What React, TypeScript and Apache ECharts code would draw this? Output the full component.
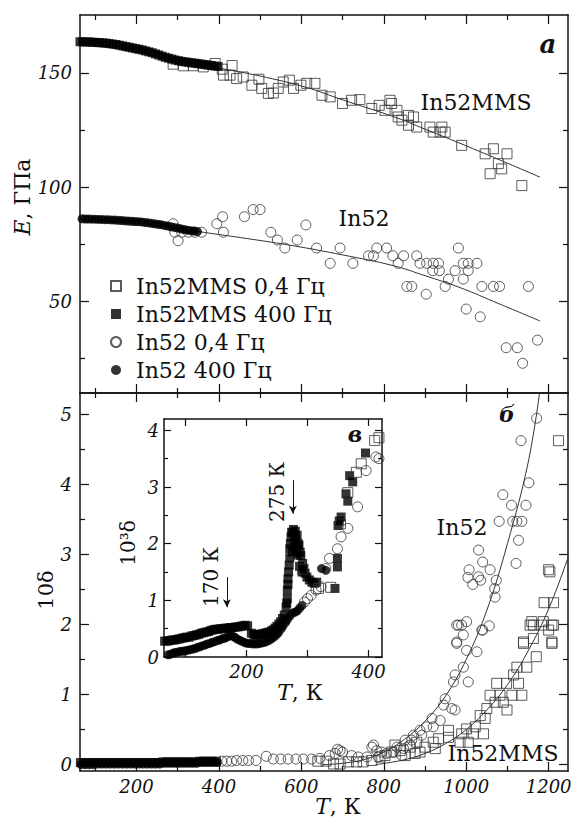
import React, { useEffect, useRef } from 'react';
import * as echarts from 'echarts';

// ---------- Panel "а": E (GPa) vs T (K) ----------
const topMms04: number[][] = [
  [289,153.8],[314,153.1],[338,153.1],[362,152.6],[391,154.1],[408,151.6],[432,153.2],[411,149],[427,149],
  [443,147.5],[459,148.2],[480,144.6],[497,147.2],[504,143.2],[520,141],[532,141.2],[544,143.2],[556,146],
  [571,146.8],[581,143.2],[599,144.6],[613,145.4],[633,145.4],[650,140.2],[670,139.5],[700,136.6],[722,138],
  [742,138.3],[771,134.4],[789,135.8],[803,133.6],[815,138],[819,136.6],[832,133.6],[835,130.7],[860,131.4],
  [844,129.3],[872,130.7],[860,127.1],[880,126.3],[912,126.3],[941,126.3],[920,124.1],[937,124.1],[949,124.1],
  [989,118.3],[1046,114.6],[1066,116.8],[1099,114.6],[1078,110.3],[1086,108],[1058,105.9],[1135,100.7]
];
const topMms400: number[][] = [
  [63,163.6],[70,163.6],[78,163.5],[86,163.5],[94,163.4],[102,163.3],[110,163.2],[118,163.1],[126,163],
  [134,162.8],[142,162.6],[150,162.4],[158,162.1],[166,161.8],[174,161.5],[182,161.2],[190,160.9],[198,160.6],
  [206,160.3],[214,160],[222,159.6],[230,159.2],[238,158.8],[246,158.3],[254,157.8],[262,157.3],[270,156.8],
  [278,156.4],[286,156],[294,155.6],[302,155.3],[310,155],[318,154.8],[326,154.6],[334,154.4],[342,154.2],
  [350,154],[358,153.8],[366,153.6],[374,153.4],[382,153.2],[390,153],[398,152.8]
];
const topIn52_04: number[][] = [
  [289,84],[293,80.3],[301,76.6],[310,80.3],[326,80.3],[342,80.3],[358,80.3],[395,84],[409,87.1],[411,80.3],
  [462,87.1],[483,90.2],[500,90.2],[526,80.3],[542,76.9],[560,73.4],[590,76.9],[611,83.5],[637,73.4],[670,66.7],
  [694,73.4],[725,66.7],[763,70],[775,70],[783,73.4],[807,73.4],[822,70],[835,66.7],[848,70],[856,56.6],
  [868,56.6],[880,70],[888,66.7],[903,53.2],[904,66.7],[920,66.7],[933,66.7],[919,63.5],[935,63.5],[949,56.6],
  [957,59.8],[973,63.5],[981,73.4],[993,66.7],[1005,66.7],[1026,66.7],[1005,63.5],[993,59.8],[1000,46.7],
  [1034,43.3],[1038,56.6],[1066,56.6],[1081,56.6],[1097,29.8],[1124,29.8],[1137,23],[1173,33.1],[1151,56.6]
];
const topIn52_400: number[][] = [
  [68,86.2],[76,86.1],[84,86.1],[92,86],[100,86],[108,85.9],[116,85.9],[124,85.8],[132,85.8],[140,85.7],
  [148,85.6],[156,85.5],[164,85.4],[172,85.3],[180,85.2],[188,85.1],[196,85],[204,84.9],[212,84.8],[220,84.6],
  [228,84.4],[236,84.2],[244,84],[252,83.8],[260,83.6],[268,83.3],[276,83],[284,82.7],[292,82.4],[300,82.1],
  [308,81.8],[316,81.5],[324,81.2],[332,81],[340,80.8],[348,80.6]
];
const topFitMms: number[][] = [
  [300,155.6],[403,152],[500,148.6],[613,143.6],[700,138.2],[823,130.9],[900,125.4],[985,119.2],[1100,110.5],[1179,104.4]
];
const topFitIn52: number[][] = [
  [300,82],[362,80.3],[470,77.5],[580,74.4],[700,70.4],[823,65.7],[900,61.3],[985,56.1],[1080,49],[1179,41.5]
];

// ---------- Panel "б": 10δ vs T (K) ----------
const botIn52_04: number[][] = [
  [407,0.05],[419,0.05],[431,0.05],[443,0.06],[458,0.06],[472,0.06],[490,0.06],[515,0.12],[532,0.08],[550,0.08],
  [568,0.08],[587,0.08],[605,0.08],[625,0.08],[645,0.09],[668,0.13],[682,0.16],[688,0.22],[694,0.2],[700,0.18],
  [722,0.13],[738,0.11],[759,0.11],[771,0.25],[775,0.28],[783,0.2],[795,0.18],[787,0.11],[807,0.16],[823,0.18],
  [844,0.13],[832,0.25],[848,0.23],[852,0.35],[864,0.28],[868,0.35],[872,0.42],[888,0.49],[892,0.42],[904,0.54],
  [917,0.66],[920,0.54],[937,0.63],[945,0.85],[949,0.94],[965,0.8],[973,0.78],[969,1.18],[973,1.28],[1005,1.18],
  [993,1.39],[1001,1.63],[1026,1.61],[977,1.73],[993,1.85],[977,1.99],[989,1.99],[1001,2.04],[1038,1.92],
  [1056,1.98],[981,1.99],[977,1.75],[1040,1.92],[1007,2.78],[1004,2.67],[1016,2.57],[1030,2.68],[1030,3.06],
  [1035,2.63],[1040,2.89],[1058,2.78],[1073,2.63],[1069,2.51],[1070,2.39],[1080,3.47],[1089,3.85],[1110,3.7],
  [1113,3.47],[1123,3.47],[1135,3.47],[1127,3.2],[1121,2.87],[1145,3.7],[1152,4.02],[1133,4.62],[1171,4.94]
];
const botMms04: number[][] = [
  [640,0.05],[660,0.05],[678,0.01],[694,0.01],[714,0.04],[734,0.04],[750,0.04],[771,0.06],[791,0.11],[803,0.13],
  [819,0.18],[827,0.28],[840,0.2],[852,0.13],[864,0.25],[876,0.16],[880,0.32],[888,0.18],[900,0.25],[920,0.32],
  [925,0.23],[933,0.37],[957,0.49],[957,0.39],[985,0.32],[1005,0.32],[989,0.44],[1017,0.44],[1042,0.44],[1001,0.51],
  [1022,0.54],[1046,0.66],[1034,0.7],[1050,0.8],[1070,0.89],[1090,0.89],[1099,0.78],[1058,0.99],[1082,0.99],
  [1111,0.99],[1135,0.99],[1074,1.16],[1098,1.16],[1127,1.16],[1115,1.28],[1123,1.39],[1147,1.39],[1170,1.54],
  [1139,1.73],[1208,1.73],[1163,1.8],[1159,2.04],[1187,2.04],[1163,1.99],[1208,1.99],[1200,1.92],[1155,1.99],
  [1183,1.99],[1212,1.99],[1139,1.75],[1208,1.75],[1189,2.31],[1212,2.31],[1200,2.78],[1203,2.75],[1224,4.62]
];
const botMms400: number[][] = [
  [64,0.03],[74,0.03],[84,0.03],[94,0.03],[104,0.03],[114,0.03],[124,0.03],[134,0.03],[144,0.03],[154,0.03],
  [164,0.03],[174,0.03],[184,0.03],[194,0.03],[204,0.03],[214,0.03],[224,0.03],[234,0.03],[244,0.03],[254,0.03],
  [264,0.04],[274,0.04],[284,0.04],[294,0.04],[304,0.04],[314,0.04],[324,0.04],[334,0.04],[344,0.04],[354,0.05],
  [364,0.05],[374,0.05],[384,0.05],[394,0.05]
];
const botIn52_400: number[][] = [
  [66,0.0],[76,0.0],[86,0.0],[96,0.0],[106,0.01],[116,0.01],[126,0.01],[136,0.01],[146,0.01],[156,0.01],
  [166,0.01],[176,0.01],[186,0.01],[196,0.01],[206,0.01],[216,0.01],[226,0.01],[236,0.01],[246,0.01],[256,0.01],
  [266,0.02],[276,0.02],[286,0.02],[296,0.02],[306,0.02],[316,0.02],[326,0.02],[336,0.02],[346,0.02],[356,0.03],
  [366,0.03],[376,0.03],[386,0.03],[396,0.03]
];
const botFitIn52: number[][] = [
  [650,0],[700,0.02],[750,0.07],[800,0.18],[850,0.36],[900,0.62],[950,0.98],[1000,1.5],[1050,2.2],[1100,3.15],[1150,4.3],[1178,5.3]
];
const botFitMms: number[][] = [
  [780,0],[850,0.07],[900,0.16],[950,0.3],[1000,0.5],[1050,0.78],[1100,1.14],[1150,1.62],[1200,2.22],[1247,2.95]
];

// ---------- Inset "в": 10³δ vs T (K) ----------
const insMms400: number[][] = [
  [66,0.28],[70,0.28],[74,0.29],[78,0.3],[82,0.3],[86,0.31],[90,0.32],[94,0.33],[98,0.34],[102,0.35],[106,0.35],
  [110,0.37],[114,0.38],[118,0.39],[122,0.4],[126,0.42],[130,0.43],[134,0.44],[138,0.45],[142,0.47],[146,0.48],
  [150,0.49],[154,0.49],[158,0.5],[162,0.5],[166,0.51],[170,0.51],[174,0.52],[178,0.52],[182,0.53],[186,0.53],
  [190,0.54],[194,0.55],[198,0.56],[202,0.55],[208,0.42],[212,0.4],[215,0.38],[219,0.39],[222,0.4],[226,0.41],
  [230,0.42],[234,0.43],[237,0.44],[241,0.46],[244,0.48],[247,0.51],[250,0.54],[253,0.58],[256,0.62],[259,0.68],
  [262,0.74],[265,0.88],[266,0.95],[267,1.03],[267,1.18],[268,1.28],[268,1.38],[269,1.5],[270,1.62],[271,1.75],
  [271,1.91],[272,2.0],[273,2.12],[274,2.2],[275,1.85],[276,2.2],[277,2.25],[278,1.95],[279,2.1],[280,2.22],
  [281,2.05],[282,1.9],[283,2.15],[284,1.8],[285,2.0],[286,1.97],[287,1.6],[288,1.85],[289,1.79],[291,1.5],
  [292,1.65],[294,1.56],[296,1.48],[299,1.41],[303,1.36],[307,1.32],[311,1.3],[315,1.32],[345,1.21],[349,1.59],
  [349,1.74],[350,2.32],[352,2.4],[355,2.47],[363,2.88],[366,2.75],[369,3.2],[374,3.09],[395,3.6]
];
const insIn52_400: number[][] = [
  [72,0.04],[76,0.05],[80,0.07],[84,0.08],[88,0.09],[92,0.1],[96,0.1],[100,0.11],[104,0.12],[108,0.13],
  [112,0.14],[116,0.15],[120,0.17],[124,0.18],[128,0.2],[132,0.21],[136,0.23],[140,0.24],[144,0.26],[148,0.27],
  [152,0.29],[156,0.3],[160,0.32],[164,0.33],[168,0.35],[172,0.37],[175,0.38],[179,0.36],[182,0.34],[186,0.31],
  [190,0.29],[194,0.27],[198,0.25],[202,0.24],[206,0.24],[210,0.23],[214,0.23],[218,0.23],[222,0.24],[226,0.25],
  [230,0.26],[234,0.28],[238,0.3],[242,0.33],[246,0.36],[250,0.4],[253,0.44],[257,0.5],[260,0.55],[264,0.61],
  [267,0.66],[271,0.72],[275,0.77],[279,0.79],[283,0.81],[287,0.86],[291,0.91],[323,1.56],[330,1.53]
];
const insMms04: number[][] = [
  [292,1.55],[318,1.21],[338,1.23],[354,2.35],[366,2.9],[380,3.26],[388,3.41],[410,3.82],[417,3.87]
];
const insIn52_04: number[][] = [
  [295,0.97],[300,1.03],[306,1.09],[314,1.18],[322,1.24],[330,1.56],[336,1.74],[349,1.91],[355,2.12],[366,2.27],
  [382,2.65],[396,3.29],[412,3.53],[417,3.5]
];
const insArrows = [
  { T: 276, from: 3.12, to: 2.53 },
  { T: 168, from: 1.41, to: 0.88 },
];

// ---------- ticks ----------
const mainXMajor = [200, 400, 600, 800, 1000, 1200];
const mainXMinor = [100, 300, 500, 700, 900, 1100];
const topYMajor = [50, 100, 150];
const topYMinor = [25, 75, 125];
const botYMajor = [0, 1, 2, 3, 4, 5];
const botYMinor = [0.5, 1.5, 2.5, 3.5, 4.5];
const insXMajor = [100, 200, 300, 400];
const insXLabels = [200, 400];
const insYMajor = [0, 1, 2, 3, 4];
const insYMinor = [0.5, 1.5, 2.5, 3.5];

const names = ['In52MMS 0,4 Гц', 'In52MMS 400 Гц', 'In52 0,4 Гц', 'In52 400 Гц'];

const INK = '#111';
const FONT = 'DejaVu Serif';

function mkAxis(gridIndex: number, position: string, min: number, max: number, ticks: number[], len: number,
  line: boolean, labels?: number[], margin = 8) {
  return {
    type: 'value', gridIndex, position, min, max,
    axisLine: { show: line, onZero: false, lineStyle: { color: INK, width: 1.5 } },
    axisTick: { show: true, inside: true, length: len, customValues: ticks, lineStyle: { color: INK, width: 1.2 } },
    axisLabel: labels
      ? {
          show: true, customValues: labels, margin, fontFamily: FONT, fontStyle: 'italic', fontSize: 18, color: INK,
          formatter: (v: number) => String(v),
        }
      : { show: false },
    splitLine: { show: false },
    minorTick: { show: false },
  };
}

function scatter(name: string, data: number[][], ax: number, symbol: string, size: number, filled: boolean, extra: any = {}) {
  return {
    type: 'scatter', name, data, xAxisIndex: ax, yAxisIndex: ax, symbol, symbolSize: size,
    itemStyle: filled ? { color: '#000' } : { color: 'rgba(0,0,0,0)', borderColor: '#333', borderWidth: 1 },
    silent: true, ...extra,
  };
}
function fit(data: number[][], ax: number) {
  return {
    type: 'line', data, xAxisIndex: ax, yAxisIndex: ax, smooth: 0.4, showSymbol: false, symbol: 'none',
    lineStyle: { color: '#333', width: 1 }, silent: true, z: 1,
  };
}

function txt(x: number, y: number, text: string, size: number, opts: any = {}) {
  return {
    type: 'text', x, y, rotation: opts.rot || 0, z: 100,
    style: {
      text, fill: INK, fontFamily: FONT, fontSize: size, fontStyle: opts.italic ? 'italic' : 'normal',
      fontWeight: opts.bold ? 'bold' : 'normal',
      textAlign: 'center', textVerticalAlign: 'middle', align: 'center', verticalAlign: 'middle',
      rich: opts.rich,
    },
  };
}

export default function App() {
  const ref = useRef<HTMLDivElement>(null);
  useEffect(() => {
    if (!ref.current) return;
    const chart = echarts.init(ref.current, undefined, { renderer: 'svg' });
    const X0 = 63, X1 = 1247;
    const xAxis = [
      mkAxis(0, 'bottom', X0, X1, mainXMajor, 9, true),
      mkAxis(0, 'bottom', X0, X1, mainXMinor, 5, false),
      mkAxis(0, 'top', X0, X1, mainXMajor, 9, true),
      mkAxis(0, 'top', X0, X1, mainXMinor, 5, false),
      mkAxis(1, 'bottom', X0, X1, mainXMajor, 9, true, mainXMajor, 6),
      mkAxis(1, 'bottom', X0, X1, mainXMinor, 5, false),
      mkAxis(1, 'top', X0, X1, mainXMajor, 9, true),
      mkAxis(1, 'top', X0, X1, mainXMinor, 5, false),
      mkAxis(2, 'bottom', 65, 422, insXMajor, 7, true, insXLabels, 5),
      mkAxis(2, 'top', 65, 422, insXMajor, 7, true),
    ];
    const yAxis = [
      mkAxis(0, 'left', 10, 175.3, topYMajor, 9, true, topYMajor),
      mkAxis(0, 'left', 10, 175.3, topYMinor, 5, false),
      mkAxis(0, 'right', 10, 175.3, topYMajor, 9, true),
      mkAxis(0, 'right', 10, 175.3, topYMinor, 5, false),
      mkAxis(1, 'left', -0.09, 5.3, botYMajor, 9, true, botYMajor),
      mkAxis(1, 'left', -0.09, 5.3, botYMinor, 5, false),
      mkAxis(1, 'right', -0.09, 5.3, botYMajor, 9, true),
      mkAxis(1, 'right', -0.09, 5.3, botYMinor, 5, false),
      mkAxis(2, 'left', 0, 4.2, insYMajor, 7, true, insYMajor, 5),
      mkAxis(2, 'left', 0, 4.2, insYMinor, 4, false),
      mkAxis(2, 'right', 0, 4.2, insYMajor, 7, true),
      mkAxis(2, 'right', 0, 4.2, insYMinor, 4, false),
    ];
    const series: any[] = [
      fit(topFitMms, 0), fit(topFitIn52, 0),
      scatter(names[0], topMms04, 0, 'rect', 10, false),
      scatter(names[1], topMms400, 0, 'rect', 9, true),
      scatter(names[2], topIn52_04, 0, 'circle', 10, false),
      scatter(names[3], topIn52_400, 0, 'circle', 9, true),
      fit(botFitMms, 4), fit(botFitIn52, 4),
      scatter(names[0], botMms04, 4, 'rect', 10, false),
      scatter(names[1], botMms400, 4, 'rect', 9, true),
      scatter(names[2], botIn52_04, 4, 'circle', 10, false),
      scatter(names[3], botIn52_400, 4, 'circle', 9, true),
      scatter(names[0], insMms04, 8, 'rect', 10, false, { z: 6 }),
      scatter(names[1], insMms400, 8, 'rect', 9, true, {
        z: 5,
        markLine: {
          silent: true, symbol: ['none', 'arrow'], symbolSize: [6, 8],
          lineStyle: { color: INK, width: 1, type: 'solid' }, label: { show: false },
          data: insArrows.map(a => [{ coord: [a.T, a.from] }, { coord: [a.T, a.to] }]),
        },
      }),
      scatter(names[2], insIn52_04, 8, 'circle', 10, false, { z: 6 }),
      scatter(names[3], insIn52_400, 8, 'circle', 9, true, { z: 5 }),
    ];
    chart.setOption({
      animation: false,
      backgroundColor: '#fff',
      grid: [
        { left: 80, top: 15, width: 488, height: 378, show: false },
        { left: 80, top: 393, width: 488, height: 378, show: false },
        { left: 164, top: 419, width: 218, height: 238, show: false },
      ],
      xAxis, yAxis, series,
      legend: {
        orient: 'vertical', left: 110, top: 275, itemWidth: 10, itemHeight: 10, itemGap: 6, padding: 0,
        selectedMode: false, data: names,
        textStyle: { fontFamily: FONT, fontSize: 22, color: INK, padding: [0, 0, 0, 10] },
      },
      graphic: [
        txt(22, 197, '{i|E}, ГПа', 22, { rot: Math.PI / 2, rich: { i: { fontStyle: 'italic', fontFamily: FONT, fontSize: 22 } } }),
        txt(46, 590, '10δ', 21, { rot: Math.PI / 2 }),
        txt(338, 806, '{i|T}, К', 22, { rich: { i: { fontStyle: 'italic', fontFamily: FONT, fontSize: 22 } } }),
        txt(128, 543, '10³δ', 20, { rot: Math.PI / 2 }),
        txt(300, 692, '{i|T}, К', 22, { rich: { i: { fontStyle: 'italic', fontFamily: FONT, fontSize: 22 } } }),
        txt(548, 44, 'а', 26, { italic: true, bold: true }),
        txt(507, 414, 'б', 22, { italic: true, bold: true }),
        txt(355, 434, 'в', 22, { italic: true, bold: true }),
        txt(476, 102, 'In52MMS', 22),
        txt(364, 218, 'In52', 22),
        txt(462, 527, 'In52', 22),
        txt(503, 753, 'In52MMS', 22),
        txt(277, 492, '275 К', 20, { rot: Math.PI / 2 }),
        txt(211, 577, '170 К', 20, { rot: Math.PI / 2 }),
      ],
    });
    return () => chart.dispose();
  }, []);
  return (
    <div ref={ref} style={{ position: 'fixed', left: 0, top: 0, width: 575, height: 818, background: '#fff' }} />
  );
}
